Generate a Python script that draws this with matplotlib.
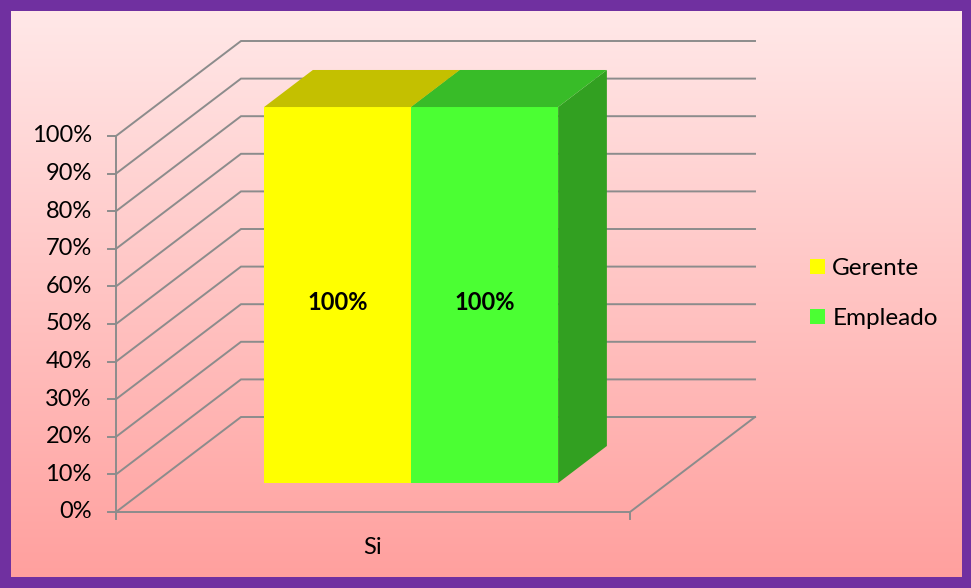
import numpy as np
import matplotlib
matplotlib.use("Agg")
import matplotlib.pyplot as plt

# ---- data ------------------------------------------------------------------
categories = ["Si"]
series = ["Gerente", "Empleado"]
values = [1.0, 1.0]                 # fraction of 100%
data_labels = ["100%", "100%"]
ticks = [0.0, 0.1, 0.2, 0.3, 0.4, 0.5, 0.6, 0.7, 0.8, 0.9, 1.0]
tick_labels = ["0%", "10%", "20%", "30%", "40%", "50%", "60%", "70%", "80%", "90%", "100%"]

front_colors = ["#FFFF00", "#4BFF33"]
top_colors = ["#C4C000", "#38BC28"]
side_colors = ["#B8B400", "#32A021"]

# ---- 3D-ish projection helpers (depth z in 0..1 -> shift by DX, DY) -------
W, H = 971, 588
DX = 125 / 514      # x units per depth unit
DY = 95 / 376       # y units per depth unit
z0, z1 = 0.305, 0.695   # bar depth span
bar_w = 0.286
bar_start = 0.5 - bar_w * len(series) / 2
FS = 17

plt.rcParams["font.family"] = ["Lato", "DejaVu Sans"]
fig = plt.figure(figsize=(W / 100, H / 100), dpi=100)
fig.patch.set_facecolor("#7030A0")

# pink gradient background inside the purple frame
bg = fig.add_axes([11 / W, 11 / H, 950 / W, 566 / H])
grad = np.linspace(0, 1, 256)[:, None]
top_c = np.array([255, 232, 232]) / 255
bot_c = np.array([255, 160, 158]) / 255
img = top_c[None, None, :] * (1 - grad[:, :, None]) + bot_c[None, None, :] * grad[:, :, None]
bg.imshow(img, aspect="auto", extent=[0, 1, 0, 1])
bg.set_axis_off()

ax = fig.add_axes([0, 0, 1, 1])
ax.set_facecolor("none")
ax.set_xlim(-116 / 514, (W - 116) / 514)
ax.set_ylim(-76 / 376, (H - 76) / 376)
ax.set_axis_off()

grid_c = "#8C8C8C"
lw = 1.4

# walls: left diagonals + back horizontal lines
for t in ticks:
    ax.plot([0, DX, 1 + DX], [t, t + DY, t + DY], color=grid_c, lw=lw, zorder=1,
            solid_joinstyle="miter")
# floor
ax.plot([0, 1, 1 + DX], [0, 0, DY], color=grid_c, lw=lw, zorder=1)
# vertical value axis and ticks
ax.plot([0, 0], [0, 1], color=grid_c, lw=lw, zorder=1)
tick_len = 8 / 514
for t, lab in zip(ticks, tick_labels):
    ax.plot([-tick_len, 0], [t, t], color=grid_c, lw=lw, zorder=1)
    ax.text(-0.047, t, lab, ha="right", va="center", fontsize=FS, color="black")
for xt in [0, 1]:
    ax.plot([xt, xt], [0, -7 / 376], color=grid_c, lw=lw, zorder=1)
ax.text(0.5, -36 / 376, categories[0], ha="center", va="center", fontsize=FS)

# bars
dz = z1 - z0
for i, (v, name) in enumerate(zip(values, series)):
    xl = bar_start + i * bar_w + z0 * DX
    xr = xl + bar_w
    yb = z0 * DY
    ax.bar(xl, v, width=bar_w, bottom=yb, align="edge", color=front_colors[i],
           edgecolor="none", zorder=3, label=name)
    ax.fill([xl, xr, xr + dz * DX, xl + dz * DX],
            [yb + v, yb + v, yb + v + dz * DY, yb + v + dz * DY],
            color=top_colors[i], zorder=3, lw=0)
    ax.fill([xr, xr + dz * DX, xr + dz * DX, xr],
            [yb, yb + dz * DY, yb + v + dz * DY, yb + v],
            color=side_colors[i], zorder=2, lw=0)
    ax.text((xl + xr) / 2, yb + v * 0.48, data_labels[i], ha="center", va="center",
            fontsize=FS, fontweight="bold", zorder=4)

leg = ax.legend(loc="upper left", bbox_to_anchor=(810 / W, 1 - 258 / H),
                bbox_transform=fig.transFigure, frameon=False, fontsize=FS + 0.5,
                handlelength=0.62, handleheight=0.62, handletextpad=0.3,
                labelspacing=1.2, borderpad=0, borderaxespad=0)

fig.savefig("out.png", dpi=100, facecolor=fig.get_facecolor())
